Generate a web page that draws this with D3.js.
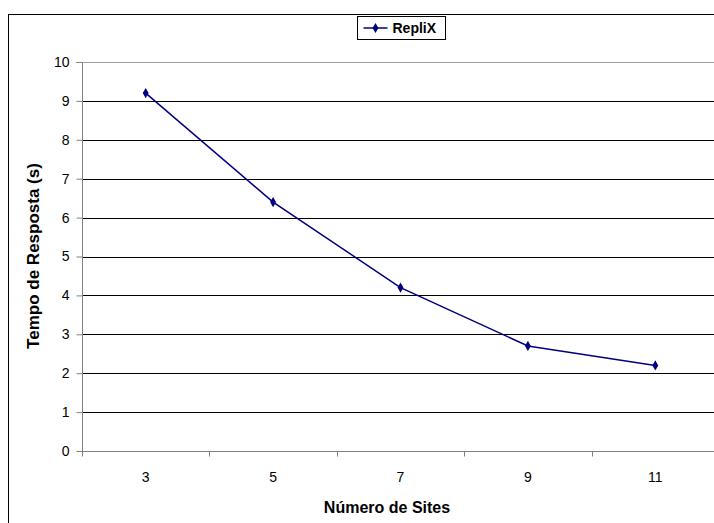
<!DOCTYPE html>
<html>
<head>
<meta charset="utf-8">
<script src="https://cdn.jsdelivr.net/npm/d3@7"></script>
<style>
  html, body { margin: 0; padding: 0; background: #fff; }
  svg { display: block; font-family: "Liberation Sans", Arial, sans-serif; }
</style>
</head>
<body>
<svg id="chart" width="714" height="523"></svg>
<script>
// Response time of RepliX as the number of sites grows
const sites = ["3", "5", "7", "9", "11"];
const responseTime = [9.2, 6.4, 4.2, 2.7, 2.2];
const yTicks = [0, 1, 2, 3, 4, 5, 6, 7, 8, 9, 10];
const seriesName = "RepliX";

const svg = d3.select("#chart");

// outer chart frame (extends past the right and bottom edges)
svg.append("rect")
  .attr("x", 8.5).attr("y", 14.5)
  .attr("width", 800).attr("height", 600)
  .attr("fill", "#fff").attr("stroke", "#000").attr("stroke-width", 1);

const plot = { left: 82, top: 62, bottom: 451, right: 82 + 5 * 127.4 };

const x = d3.scaleBand().domain(sites).range([plot.left, plot.right]).padding(0);
const y = d3.scaleLinear().domain([0, 10]).range([plot.bottom, plot.top]);

// horizontal gridlines
svg.append("g")
  .selectAll("line")
  .data(yTicks.filter(d => d > 0))
  .join("line")
  .attr("x1", plot.left).attr("x2", plot.right)
  .attr("y1", d => Math.round(y(d)) + 0.5).attr("y2", d => Math.round(y(d)) + 0.5)
  .attr("stroke", d => d === 10 ? "#a0a0a0" : "#000")
  .attr("stroke-width", 1);

// y axis
const yAxis = svg.append("g")
  .attr("transform", `translate(${plot.left + 0.5},0)`)
  .call(d3.axisLeft(y).tickValues(yTicks).tickSize(6).tickPadding(7).tickFormat(d3.format("d")));
yAxis.attr("font-size", null).attr("font-family", null);
yAxis.select(".domain").attr("stroke", "#808080").attr("d", `M-6,${plot.top + 0.5}H0V${plot.bottom + 0.5}`);
yAxis.selectAll(".tick line").attr("stroke", "#808080");
yAxis.selectAll(".tick text").attr("font-size", 14).attr("fill", "#000");

// x axis: ticks sit on the category boundaries
const xAxisG = svg.append("g").attr("transform", `translate(0,${Math.round(plot.bottom) + 0.5})`);
xAxisG.append("line")
  .attr("x1", plot.left).attr("x2", plot.right)
  .attr("stroke", "#808080");
const boundaries = d3.range(sites.length + 1).map(i => plot.left + i * x.step());
xAxisG.selectAll("line.tk")
  .data(boundaries)
  .join("line").attr("class", "tk")
  .attr("x1", d => Math.round(d) + 0.5).attr("x2", d => Math.round(d) + 0.5)
  .attr("y1", 0).attr("y2", 5)
  .attr("stroke", "#808080");
xAxisG.selectAll("text")
  .data(sites)
  .join("text")
  .attr("x", d => x(d) + x.bandwidth() / 2)
  .attr("y", 30)
  .attr("text-anchor", "middle")
  .attr("font-size", 14)
  .text(d => d);

// series line + diamond markers
const pts = sites.map((s, i) => [x(s) + x.bandwidth() / 2, y(responseTime[i])]);
svg.append("path")
  .datum(pts)
  .attr("d", d3.line())
  .attr("fill", "none")
  .attr("stroke", "#000080")
  .attr("stroke-width", 1.5);

const diamond = d3.symbol().type(d3.symbolDiamond).size(30);
svg.append("g").selectAll("path")
  .data(pts)
  .join("path")
  .attr("transform", d => `translate(${d[0]},${d[1]})`)
  .attr("d", diamond)
  .attr("fill", "#000080");

// axis titles
svg.append("text")
  .attr("x", 387).attr("y", 513)
  .attr("text-anchor", "middle")
  .attr("font-size", 16).attr("font-weight", "bold")
  .text("Número de Sites");

svg.append("text")
  .attr("transform", "translate(39,256) rotate(-90)")
  .attr("text-anchor", "middle")
  .attr("font-size", 17).attr("font-weight", "bold")
  .text("Tempo de Resposta (s)");

// legend
const lg = svg.append("g").attr("transform", "translate(357.5,16.5)");
lg.append("rect").attr("width", 88).attr("height", 23)
  .attr("fill", "#fff").attr("stroke", "#000");
lg.append("line").attr("x1", 6).attr("x2", 30).attr("y1", 11.5).attr("y2", 11.5)
  .attr("stroke", "#000080").attr("stroke-width", 1.5);
lg.append("path").attr("transform", "translate(18,11.5)").attr("d", diamond).attr("fill", "#000080");
lg.append("text").attr("x", 35).attr("y", 16.5)
  .attr("font-size", 14).attr("font-weight", "bold")
  .text(seriesName);
</script>
</body>
</html>
